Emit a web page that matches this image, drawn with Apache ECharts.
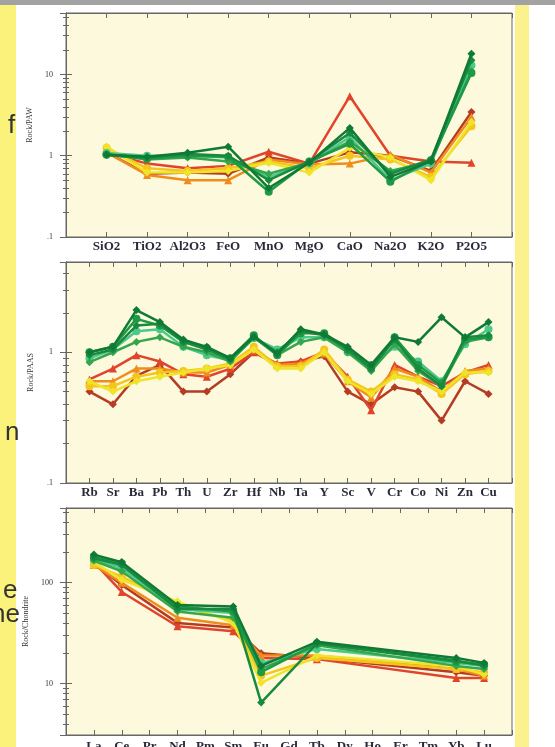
<!DOCTYPE html>
<html><head><meta charset="utf-8">
<script src="https://cdn.jsdelivr.net/npm/echarts@6/dist/echarts.min.js"></script>
<style>html,body{margin:0;padding:0;background:#fff;overflow:hidden}#c{width:555px;height:747px}</style>
</head><body><div id="c"></div>
<script>
// ---------- categories ----------
const majorCats = ['SiO2','TiO2','Al2O3','FeO','MnO','MgO','CaO','Na2O','K2O','P2O5'];
const traceCats = ['Rb','Sr','Ba','Pb','Th','U','Zr','Hf','Nb','Ta','Y','Sc','V','Cr','Co','Ni','Zn','Cu'];
const reeCats = ['La','Ce','Pr','Nd','Pm','Sm','Eu','Gd','Tb','Dy','Ho','Er','Tm','Yb','Lu'];

// ---------- y-axis titles ----------
const yTitles = ['Rock/PAW','Rock/PAAS','Rock/Chondrite'];

// ---------- samples (draw order) ----------
const sampleNames = ['B1','R1','O1','Y2','Y1','G4','G3','G5','G2','G1'];
const sampleColors = ['#b43c24','#e0442c','#f08c1c','#f5c51c','#f0e42a','#4cc88c','#34a64e','#1e9a46','#178a3e','#0f7a36'];
const sampleSymbols = ['diamond','triangle','triangle','circle','diamond','circle','diamond','circle','diamond','diamond'];

// ---------- major elements (Rock/PAW) ----------
const majB1 = [1.10, 0.60, 0.62, 0.60, 0.95, 0.80, 1.10, 1.00, 0.65, 3.46];
const majR1 = [1.10, 0.80, 0.70, 0.75, 1.12, 0.80, 5.40, 1.00, 0.85, 0.82];
const majO1 = [1.10, 0.58, 0.50, 0.50, 0.90, 0.78, 0.80, 1.03, 0.62, 3.00];
const majY2 = [1.25, 0.70, 0.65, 0.70, 0.85, 0.70, 1.00, 0.90, 0.55, 2.30];
const majY1 = [1.30, 0.62, 0.62, 0.65, 0.82, 0.62, 1.25, 0.95, 0.50, 2.60];
const majG4 = [1.08, 1.00, 1.00, 0.95, 0.55, 0.80, 1.70, 0.50, 0.80, 13.0];
const majG3 = [1.05, 0.90, 0.95, 0.85, 0.60, 0.82, 1.50, 0.65, 0.85, 11.0];
const majG5 = [1.03, 0.92, 1.00, 0.97, 0.36, 0.85, 1.40, 0.48, 0.88, 10.4];
const majG2 = [1.03, 0.95, 1.05, 1.00, 0.50, 0.85, 1.90, 0.60, 0.90, 15.0];
const majG1 = [1.03, 0.97, 1.09, 1.29, 0.40, 0.82, 2.20, 0.55, 0.85, 18.0];

// ---------- trace elements (Rock/PAAS) ----------
const trB1 = [0.50, 0.40, 0.66, 0.80, 0.50, 0.50, 0.68, 1.00, 0.80, 0.85, 0.93, 0.50, 0.40, 0.54, 0.50, 0.30, 0.60, 0.48];
const trR1 = [0.62, 0.75, 0.95, 0.85, 0.68, 0.65, 0.75, 1.00, 0.82, 0.85, 1.00, 0.65, 0.36, 0.80, 0.65, 0.55, 0.70, 0.80];
const trO1 = [0.60, 0.60, 0.75, 0.75, 0.70, 0.70, 0.80, 1.05, 0.80, 0.82, 0.98, 0.60, 0.45, 0.75, 0.65, 0.50, 0.72, 0.75];
const trY2 = [0.55, 0.55, 0.65, 0.70, 0.72, 0.75, 0.82, 1.10, 0.78, 0.78, 1.05, 0.62, 0.50, 0.68, 0.62, 0.48, 0.68, 0.72];
const trY1 = [0.60, 0.50, 0.60, 0.65, 0.70, 0.75, 0.80, 1.05, 0.75, 0.75, 1.00, 0.60, 0.48, 0.65, 0.60, 0.50, 0.70, 0.70];
const trG4 = [0.90, 1.05, 1.45, 1.50, 1.10, 0.95, 0.87, 1.28, 1.05, 1.30, 1.30, 1.00, 0.80, 1.10, 0.85, 0.60, 1.15, 1.50];
const trG3 = [0.84, 1.00, 1.20, 1.30, 1.10, 1.00, 0.85, 1.30, 0.95, 1.20, 1.30, 1.00, 0.72, 1.15, 0.72, 0.55, 1.20, 1.30];
const trG5 = [1.00, 1.10, 1.80, 1.60, 1.20, 1.08, 0.90, 1.35, 0.95, 1.40, 1.40, 1.05, 0.75, 1.30, 0.80, 0.58, 1.25, 1.30];
const trG2 = [0.95, 1.05, 1.60, 1.65, 1.20, 1.05, 0.88, 1.30, 1.00, 1.45, 1.35, 1.05, 0.75, 1.25, 0.75, 0.55, 1.30, 1.35];
const trG1 = [1.00, 1.10, 2.10, 1.70, 1.25, 1.10, 0.90, 1.32, 0.97, 1.50, 1.37, 1.10, 0.80, 1.30, 1.20, 1.85, 1.30, 1.70];

// ---------- REE (Rock/Chondrite); null = not analysed ----------
const reeB1 = [155, 95, null, 40, null, 36, 20.0, null, 18.0, null, null, null, null, 13.0, 12.0];
const reeR1 = [160, 81, null, 37, null, 33, 18.0, null, 17.5, null, null, null, null, 11.4, 11.4];
const reeO1 = [150, 100, null, 45, null, 38, 19.0, null, 19.0, null, null, null, null, 14.0, 12.0];
const reeY2 = [150, 115, null, 60, null, 42, 12.0, null, 18.0, null, null, null, null, 14.0, 13.0];
const reeY1 = [160, 107, null, 65, null, 40, 10.2, null, 19.0, null, null, null, null, 15.0, 12.3];
const reeG4 = [170, 140, null, 55, null, 50, 16.0, null, 22.0, null, null, null, null, 16.0, 15.0];
const reeG3 = [165, 130, null, 52, null, 45, 14.0, null, 24.0, null, null, null, null, 15.0, 14.0];
const reeG5 = [180, 155, null, 58, null, 52, 13.0, null, 25.0, null, null, null, null, 16.5, 15.5];
const reeG2 = [175, 150, null, 55, null, 55, 6.5, null, 25.0, null, null, null, null, 17.0, 15.0];
const reeG1 = [190, 160, null, 60, null, 58, 15.0, null, 26.0, null, null, null, null, 18.0, 16.0];

const majorData = [majB1, majR1, majO1, majY2, majY1, majG4, majG3, majG5, majG2, majG1];
const traceData = [trB1, trR1, trO1, trY2, trY1, trG4, trG3, trG5, trG2, trG1];
const reeData = [reeB1, reeR1, reeO1, reeY2, reeY1, reeG4, reeG3, reeG5, reeG2, reeG1];

const yRanges = [[0.1, 57], [0.1, 4.9], [3.1, 550]];

// ---------- build ----------
const panels = [
  {cats: majorCats, data: majorData, grid: {left: 66, top: 13, width: 446, height: 224}},
  {cats: traceCats, data: traceData, grid: {left: 66, top: 262, width: 446, height: 221}},
  {cats: reeCats, data: reeData, grid: {left: 66, top: 508, width: 446, height: 227}}
];

const axisCol = '#666';
function logLabel(v) {
  const l = Math.log10(v);
  if (Math.abs(l - Math.round(l)) > 1e-6) return '';
  const r = Math.round(l);
  return r < 0 ? '.' + '0'.repeat(-r - 1) + '1' : String(Math.pow(10, r));
}

const grid = [], xAxis = [], yAxis = [], series = [];
panels.forEach((p, gi) => {
  grid.push(Object.assign({show: true, containLabel: false, outerBoundsMode: 'none',
    backgroundColor: '#fcf9dc', borderColor: axisCol, borderWidth: 1}, p.grid));
  const n = p.cats.length;
  const xBase = {type: 'value', gridIndex: gi, min: 0, max: n + 1, interval: 1, splitLine: {show: false},
    axisLine: {show: true, lineStyle: {color: axisCol, width: 1}},
    axisTick: {show: true, inside: true, length: 5, lineStyle: {color: axisCol}}};
  xAxis.push(Object.assign({}, xBase, {position: 'bottom',
    axisLabel: {show: true, margin: gi === 2 ? 5 : 3, fontFamily: 'Liberation Serif', fontSize: 13, fontWeight: 'bold', color: '#2a2a3a',
      formatter: v => p.cats[v - 1] || ''}}));
  xAxis.push(Object.assign({}, xBase, {position: 'top', axisLabel: {show: false}}));
  const yBase = {type: 'log', logBase: 10, gridIndex: gi, min: yRanges[gi][0], max: yRanges[gi][1], splitLine: {show: false},
    axisLine: {show: true, lineStyle: {color: axisCol, width: 1}},
    axisTick: {show: true, inside: true, length: 6, lineStyle: {color: axisCol}},
    minorTick: {show: true, splitNumber: 9, length: 3, lineStyle: {color: axisCol}}};
  yAxis.push(Object.assign({}, yBase, {position: 'left', name: yTitles[gi], nameLocation: 'middle', nameGap: 31, nameRotate: 90,
    nameTextStyle: {fontFamily: 'Liberation Serif', fontSize: 8, color: '#333'},
    axisLabel: {show: true, margin: 13, fontFamily: 'Liberation Serif', fontSize: 8, color: '#333', formatter: logLabel}}));
  yAxis.push(Object.assign({}, yBase, {position: 'right', axisLabel: {show: false}}));
  p.data.forEach((arr, si) => {
    const pts = [];
    arr.forEach((v, i) => { if (v != null) pts.push([i + 1, v]); });
    series.push({type: 'line', name: sampleNames[si], xAxisIndex: gi * 2, yAxisIndex: gi * 2, data: pts,
      symbol: sampleSymbols[si], symbolSize: 8, showSymbol: true, animation: false, silent: true,
      lineStyle: {color: sampleColors[si], width: 2.5},
      itemStyle: {color: sampleColors[si], borderWidth: 0}, z: 3 + si});
  });
});

const chart = echarts.init(document.getElementById('c'), null, {renderer: 'canvas'});
chart.setOption({
  backgroundColor: '#ffffff',
  animation: false,
  grid, xAxis, yAxis, series,
  graphic: [
    {type: 'rect', shape: {x: 0, y: 0, width: 555, height: 5}, style: {fill: '#a2a2a2'}, z: -10},
    {type: 'rect', shape: {x: 0, y: 5, width: 16, height: 742}, style: {fill: '#fbf27c'}, z: -10},
    {type: 'rect', shape: {x: 515, y: 5, width: 14, height: 742}, style: {fill: '#fbf28e'}, z: -10},
    {type: 'text', left: 8, top: 113, style: {text: 'f', fontFamily: 'Liberation Sans', fontSize: 26, fill: '#333'}},
    {type: 'text', left: 5, top: 420, style: {text: 'n', fontFamily: 'Liberation Sans', fontSize: 26, fill: '#333'}},
    {type: 'text', left: 3, top: 578, style: {text: 'e', fontFamily: 'Liberation Sans', fontSize: 26, fill: '#333'}},
    {type: 'text', left: -9, top: 602, style: {text: 'ne', fontFamily: 'Liberation Sans', fontSize: 26, fill: '#333'}}
  ]
});
</script></body></html>
